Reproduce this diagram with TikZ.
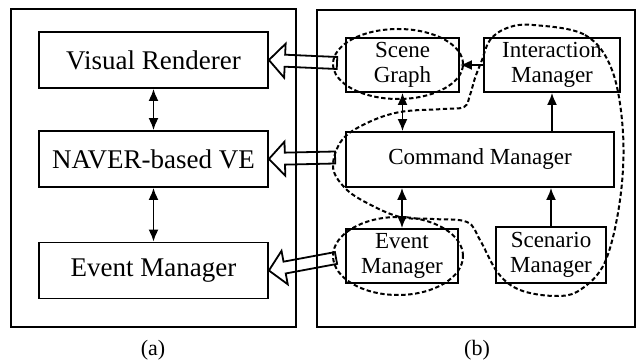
\documentclass[tikz,border=0pt]{standalone}
\usepackage{fontspec}
\setmainfont{Liberation Serif}
\usetikzlibrary{calc,positioning,shapes.geometric,arrows.meta}
\tikzset{
box/.style={draw, line width=0.9pt, inner sep=0pt, align=center}, % plain module box
bigbox/.style={box, minimum width=114.5pt, minimum height=28pt, font=\fontsize{13.5}{15}\selectfont},
smallbox/.style={box, minimum height=27pt, font=\fontsize{11.5}{12.5}\selectfont},
ring/.style={ellipse, draw, line width=1pt, dash pattern=on 2.2pt off 1.3pt, inner sep=0pt},
link/.style={line width=0.9pt, -{Latex[length=6pt,width=5pt]}},
twoway/.style={line width=0.9pt, {Latex[length=6pt,width=5pt]}-{Latex[length=6pt,width=5pt]}},
hollow/.style={draw, line width=0.9pt, line join=miter},
}
% wide open arrow: #1 = tip, #2 = tail
\newcommand{\blockarrow}[2]{%
  \draw[hollow] (#1)
    -- ($(#1)!8pt!(#2)!8.5pt!90:(#2)$)
    -- ($(#1)!8pt!(#2)!3pt!90:(#2)$)
    -- ($(#2)!3pt!-90:(#1)$)
    -- ($(#2)!3pt!90:(#1)$)
    -- ($(#1)!8pt!(#2)!3pt!-90:(#2)$)
    -- ($(#1)!8pt!(#2)!8.5pt!-90:(#2)$)
    -- cycle;}

\begin{document}
\begin{tikzpicture}[x=0.5pt,y=-0.5pt,on grid]
    \useasboundingbox (0,0) rectangle (637,363);
    \draw[line width=0.9pt] (11,9) rectangle (296,327);
    \draw[line width=0.9pt] (317,10) rectangle (635,327);
    % (a)
    \node[bigbox] (vr) at (153.5,60) {Visual Renderer};
    \node[bigbox] (nv) [below=49.5pt of vr] {NAVER-based VE};
    \node[bigbox] (ev) [below=55.75pt of nv] {Event Manager};
    \draw[twoway] (vr) -- (nv);
    \draw[twoway] (nv) -- (ev);
    % (b)
    \node[smallbox, minimum width=56.5pt] (sg) at (402.5,65) {Scene\\Graph};
    \node[smallbox, minimum width=68pt] (im) at (552,65) {Interaction\\Manager};
    \node[smallbox, minimum width=134pt, minimum height=27.5pt] (cm) at (480,159.5) {Command Manager};
    \node[smallbox, minimum width=56pt] (eb) at (402,256) {Event\\Manager};
    \node[smallbox, minimum width=55pt, minimum height=28pt] (sm) at (551,255) {Scenario\\Manager};
    \draw[twoway] (sg.south) -- (sg.south |- cm.north);
    \draw[twoway] (eb.north) -- (eb.north |- cm.south);
    \draw[link] (im.west) -- (sg.east);
    \draw[link] (im.south |- cm.north) -- (im.south);
    \draw[link] (sm.north) -- (sm.north |- cm.south);
    % dashed groups
    \node[ring, minimum width=65pt, minimum height=35pt] (sgring) at (398,64) {};
    \node[ring, minimum width=65pt, minimum height=39pt] (ebring) at (398,256) {};
    \draw[line width=1pt, dash pattern=on 2.2pt off 1.3pt] plot[smooth cycle, tension=0.6] coordinates {
      (533,25) (585,35) (612,70) (623,133) (620,200) (605,262) (580,290) (555,296)
      (520,290) (498,273) (480,240) (467,222) (433,219) (400,217) (367,203) (345,188)
      (333,167) (342,140) (367,123) (400,112) (443,109) (464,107) (470,95) (475,78)
      (482,60) (490,40) (507,28)};
    % data flow to (a)
    \blockarrow{vr.east}{$(sgring.west)+(5,-1)$}
    \blockarrow{nv.east}{$(cm.west)+(-10,-2)$}
    \blockarrow{ev.east}{$(ebring.west)+(4,2)$}
    \node[font=\fontsize{11}{12}\selectfont] (capa) at (153,350) {(a)};
    \node[font=\fontsize{11}{12}\selectfont] (capb) at (477,350) {(b)};
\end{tikzpicture}
\end{document}
